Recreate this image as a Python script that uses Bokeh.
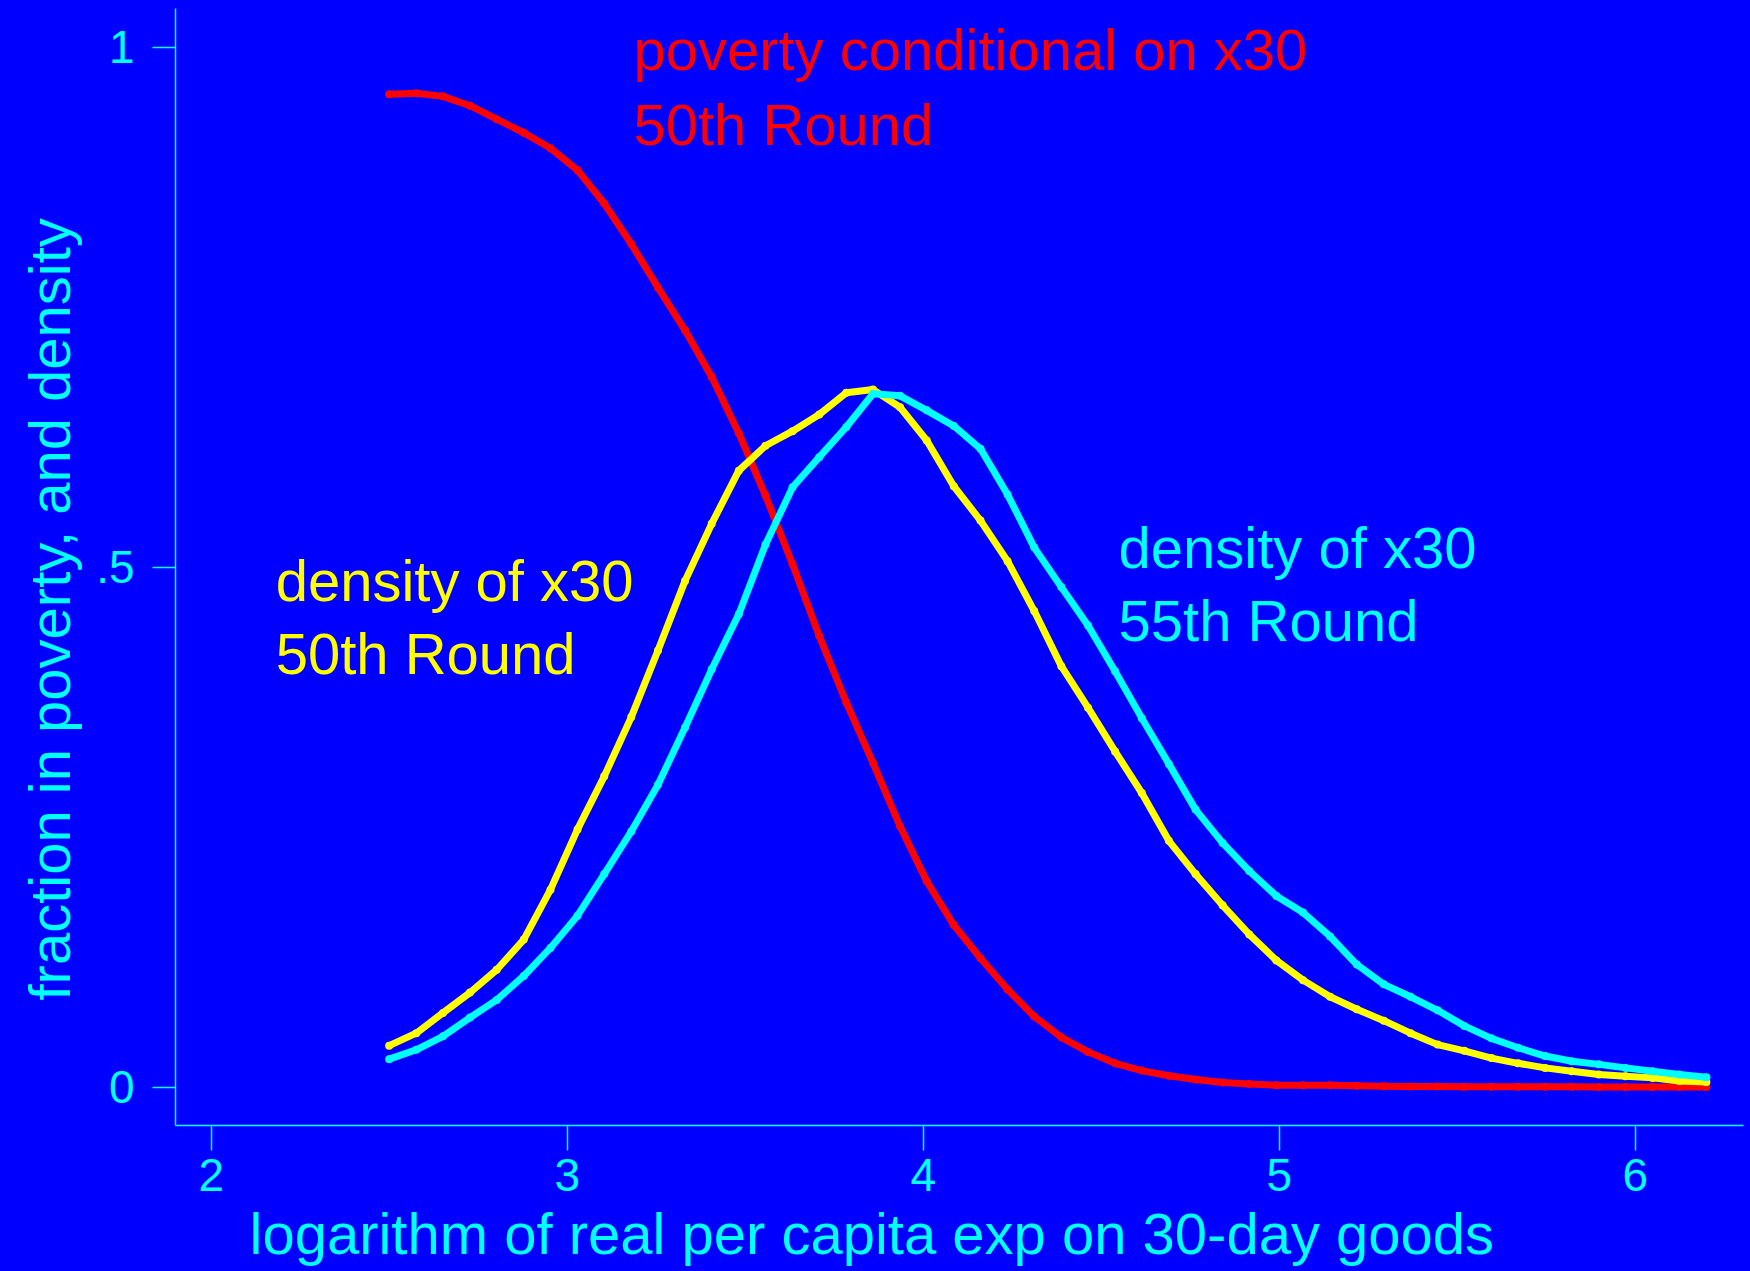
from bokeh.plotting import figure
from bokeh.models import Label, FixedTicker, Range1d, GlobalInlineStyleSheet, Title
from bokeh.embed import file_html
from bokeh.resources import INLINE

# ---- data ----
x30 = [2.500, 2.576, 2.651, 2.727, 2.802, 2.878, 2.953, 3.029, 3.104, 3.180,
       3.255, 3.331, 3.406, 3.482, 3.557, 3.633, 3.708, 3.784, 3.859, 3.935,
       4.010, 4.086, 4.161, 4.237, 4.312, 4.388, 4.463, 4.539, 4.614, 4.690,
       4.765, 4.841, 4.916, 4.992, 5.067, 5.143, 5.218, 5.294, 5.369, 5.445,
       5.520, 5.596, 5.671, 5.747, 5.822, 5.898, 5.973, 6.049, 6.124, 6.200]

poverty_50 = [0.955, 0.956, 0.953, 0.944, 0.931, 0.918, 0.903, 0.882, 0.850, 0.811,
              0.769, 0.728, 0.683, 0.629, 0.569, 0.503, 0.434, 0.370, 0.312, 0.251,
              0.198, 0.156, 0.124, 0.094, 0.068, 0.048, 0.034, 0.023, 0.016, 0.011,
              0.0075, 0.0045, 0.003, 0.002, 0.002, 0.0018, 0.0015, 0.001, 0.0008, 0.0006,
              0.0005, 0.0005, 0.0005, 0.0004, 0.0004, 0.0003, 0.0003, 0.0003, 0.0002, 0.0002]

density_50 = [0.040, 0.052, 0.0715, 0.091, 0.113, 0.142, 0.190, 0.248, 0.299, 0.356,
              0.420, 0.487, 0.542, 0.593, 0.617, 0.631, 0.647, 0.668, 0.671, 0.654,
              0.622, 0.578, 0.545, 0.506, 0.458, 0.405, 0.365, 0.323, 0.283, 0.237,
              0.205, 0.175, 0.147, 0.122, 0.103, 0.087, 0.075, 0.064, 0.052, 0.041,
              0.035, 0.028, 0.023, 0.0186, 0.0154, 0.0122, 0.0106, 0.009, 0.006, 0.005]

density_55 = [0.027, 0.036, 0.049, 0.067, 0.084, 0.107, 0.134, 0.165, 0.205, 0.246,
              0.291, 0.346, 0.402, 0.455, 0.522, 0.577, 0.606, 0.635, 0.667, 0.665,
              0.651, 0.636, 0.614, 0.570, 0.519, 0.481, 0.444, 0.400, 0.355, 0.311,
              0.267, 0.235, 0.208, 0.184, 0.168, 0.145, 0.118, 0.099, 0.087, 0.074,
              0.059, 0.047, 0.038, 0.030, 0.025, 0.022, 0.0186, 0.0154, 0.0122, 0.0096]

x_ticks = [2, 3, 4, 5, 6]
y_ticks = [0, 0.5, 1]
y_tick_labels = {0: "0", 0.5: ".5", 1: "1"}

x_title = "logarithm of real per capita exp on 30-day goods"
y_title = "fraction in poverty, and density"

BG = "#0000FF"
CYAN = "#00FFFF"
RED = "#FF0000"
YELLOW = "#FFFF00"
FONT = "Liberation Sans"

p = figure(width=1750, height=1271,
           x_range=Range1d(1.8997, 6.3042), y_range=Range1d(-0.0368, 1.0375),
           output_backend="svg", toolbar_location=None,
           min_border_left=175, min_border_right=7,
           min_border_top=8, min_border_bottom=146)

p.stylesheets = [GlobalInlineStyleSheet(css="html, body { background-color: #0000FF; }")]
p.background_fill_color = BG
p.border_fill_color = BG
p.outline_line_color = None
p.xgrid.visible = False
p.ygrid.visible = False

for ax in (p.xaxis, p.yaxis):
    ax.axis_line_color = CYAN
    ax.axis_line_width = 1.5
    ax.major_tick_line_color = CYAN
    ax.major_tick_line_width = 1.5
    ax.major_tick_in = 0
    ax.minor_tick_line_color = None
    ax.major_label_text_color = CYAN
    ax.major_label_text_font = FONT
    ax.major_label_text_font_size = "46px"

p.xaxis.ticker = FixedTicker(ticks=x_ticks)
p.yaxis.ticker = FixedTicker(ticks=y_ticks)
p.yaxis.major_label_overrides = y_tick_labels
p.xaxis.major_tick_out = 25
p.yaxis.major_tick_out = 23
p.xaxis.major_label_standoff = 8
p.yaxis.major_label_standoff = 18

# curves: red first, then yellow, then cyan on top
for ys, col in ((poverty_50, RED), (density_50, YELLOW), (density_55, CYAN)):
    p.line(x30, ys, line_color=col, line_width=7, line_join="round", line_cap="round")
    p.scatter(x30, ys, size=8, fill_color=col, line_color=None)

def add_label(x, y, text, color, **kw):
    p.add_layout(Label(x=x, y=y, text=text, text_color=color, text_font=FONT,
                       text_font_size="58px", text_baseline="alphabetic", **kw))

add_label(3.186, 0.9985, "poverty conditional on x30", RED)
add_label(3.186, 0.9259, "50th Round", RED)
add_label(2.181, 0.4873, "density of x30", YELLOW)
add_label(2.181, 0.4171, "50th Round", YELLOW)
add_label(4.5486, 0.5191, "density of x30", CYAN)
add_label(4.5486, 0.4488, "55th Round", CYAN)

# axis titles as side-panel titles (positioned like the reference)
p.add_layout(Title(text=x_title, align="left", offset=74, standoff=10,
                   vertical_align="bottom",
                   text_color=CYAN, text_font=FONT, text_font_size="58px",
                   text_font_style="normal"), "below")
p.add_layout(Title(text=y_title, align="left", offset=125, standoff=23,
                   vertical_align="bottom",
                   text_color=CYAN, text_font=FONT, text_font_size="58px",
                   text_font_style="normal"), "left")

open("out.html", "w").write(file_html(p, INLINE))
